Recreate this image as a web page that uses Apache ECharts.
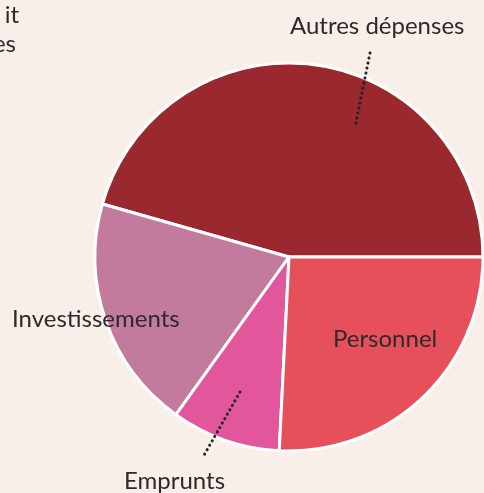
<!DOCTYPE html>
<html>
<head>
<meta charset="utf-8">
<script src="https://cdn.jsdelivr.net/npm/echarts@6/dist/echarts.min.js"></script>
<style>
  html, body { margin: 0; padding: 0; background: #f8efea; }
  #chart { width: 484px; height: 493px; }
</style>
</head>
<body>
<div id="chart"></div>
<script>
// répartition des dépenses (en %)
var categories = ['Autres dépenses', 'Investissements', 'Emprunts', 'Personnel'];
var values = [45.6, 19.5, 9.1, 25.8];
var colors = ['#99292f', '#c27b9d', '#e2569b', '#e5505a'];

// position des étiquettes (coin gauche, milieu vertical)
var labelPos = [[290, 26], [12, 319], [124, 481], [333, 339]];

var font = 'Lato, "Open Sans", sans-serif';
var textColor = '#2e2a2b';

var chart = echarts.init(document.getElementById('chart'));

var graphics = [
  // texte coupé en haut à gauche
  { type: 'text', x: 19, y: 15, style: { text: 'it', font: '24px ' + font, fill: textColor, align: 'right', verticalAlign: 'middle' } },
  { type: 'text', x: 16, y: 44, style: { text: 'es', font: '24px ' + font, fill: textColor, align: 'right', verticalAlign: 'middle' } },
  // lignes pointillées
  { type: 'line', shape: { x1: 370, y1: 53, x2: 355, y2: 127 }, style: { stroke: '#222', lineWidth: 3, lineDash: [0.1, 5], lineCap: 'round' }, z: 10 },
  { type: 'line', shape: { x1: 240, y1: 392, x2: 203, y2: 457 }, style: { stroke: '#222', lineWidth: 3, lineDash: [0.1, 5], lineCap: 'round' }, z: 10 }
];
categories.forEach(function (c, i) {
  graphics.push({
    type: 'text', x: labelPos[i][0], y: labelPos[i][1], z: 10,
    style: { text: c, font: '24px ' + font, fill: textColor, align: 'left', verticalAlign: 'middle' }
  });
});

chart.setOption({
  backgroundColor: '#f8efea',
  animation: false,
  graphic: graphics,
  series: [{
    type: 'pie',
    center: [289, 257],
    radius: 194,
    startAngle: 0,
    clockwise: false,
    silent: true,
    itemStyle: {
      borderColor: '#ffffff',
      borderWidth: 3
    },
    label: { show: false },
    labelLine: { show: false },
    data: categories.map(function (c, i) {
      return { name: c, value: values[i], itemStyle: { color: colors[i] } };
    })
  }]
});
</script>
</body>
</html>
